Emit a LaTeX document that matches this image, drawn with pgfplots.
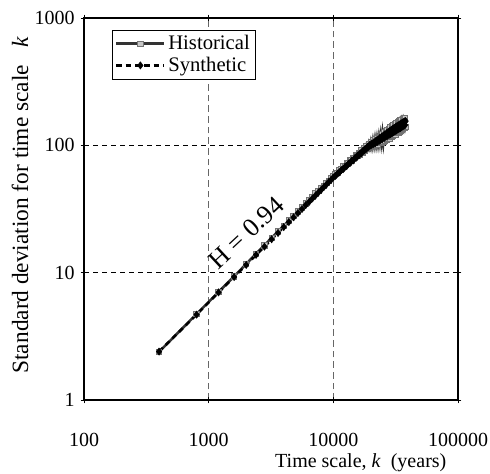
\documentclass[border=0pt]{standalone}
\usepackage{fontspec}
\setmainfont{Liberation Serif}
\usepackage{pgfplots}
\pgfplotsset{compat=1.18}
\usepackage{pgfplotstable}
\usetikzlibrary{calc}

% Standard deviation of the aggregated series against the time scale k (years)
\pgfplotstableread{
k sd
400 2.39
800 4.73
1200 7.05
1600 9.35
2000 11.7
2400 14.1
2800 16.4
3200 18.8
3600 21.1
4000 23.4
4400 25.7
4800 28.0
5200 30.3
5600 32.5
6000 34.9
6400 37.2
6800 39.3
7200 41.8
7600 43.9
8000 46.3
8400 48.2
8800 50.9
9200 52.8
9600 55.4
10000 57.2
10400 59.6
10800 61.0
11200 63.8
11600 64.9
12000 68.1
12400 68.8
12800 71.9
13200 72.6
13600 76.2
14000 75.9
14400 79.8
14800 79.4
15200 83.6
15600 82.5
16000 87.4
16400 84.9
16800 91.5
17200 87.8
17600 95.0
18000 90.1
18400 98.9
18800 93.2
19200 103.0
19600 95.8
20000 106.4
20400 96.9
20800 109.8
21200 99.2
21600 112.5
22000 100.4
22400 113.9
22800 101.8
23200 116.7
23600 104.0
24000 119.8
24400 105.1
24800 123.5
25200 106.8
25600 126.0
26000 108.3
26400 129.1
26800 110.6
27200 131.8
27600 112.2
28000 135.0
28400 113.5
28800 137.9
29200 116.0
29600 140.3
30000 118.2
30400 143.5
30800 120.3
31200 146.1
31600 122.0
32000 149.0
32400 124.5
32800 151.6
33200 126.3
33600 154.0
34000 128.8
34400 156.4
34800 130.7
35200 158.9
35600 133.0
36000 161.0
36400 134.8
36800 162.8
37200 136.9
37600 164.0
38000 139.0
}\historical

\pgfplotstableread{
k sd
400 2.40
800 4.68
1200 7.00
1600 9.25
2000 11.5
2400 13.8
2800 16.0
3200 18.3
3600 20.5
4000 22.8
4400 25.0
4800 27.2
5200 29.4
5600 31.6
6000 33.9
6400 36.0
6800 38.3
7200 40.4
7600 42.7
8000 44.8
8400 47.1
8800 49.2
9200 51.6
9600 53.6
10000 56.0
10400 57.6
10800 59.9
11200 61.4
11600 63.9
12000 65.1
12400 67.8
12800 68.7
13200 71.6
13600 72.5
14000 75.4
14400 76.0
14800 79.1
15200 79.7
15600 82.9
16000 83.2
16400 86.5
16800 86.8
17200 90.2
17600 90.3
18000 93.9
18400 93.8
18800 97.5
19200 97.2
19600 100.8
20000 99.6
20400 103.5
20800 101.8
21200 105.9
21600 103.6
22000 108.9
22400 105.8
22800 111.6
23200 108.0
23600 114.3
24000 110.2
24400 117.0
24800 112.4
25200 119.7
25600 114.6
26000 122.3
26400 116.7
26800 124.6
27200 118.9
27600 127.5
28000 120.6
28400 129.9
28800 122.5
29200 132.6
29600 124.9
30000 134.8
30400 126.5
30800 137.3
31200 128.9
31600 139.2
32000 130.8
32400 141.6
32800 132.6
33200 143.7
33600 134.9
34000 145.9
34400 136.4
34800 148.0
35200 138.7
35600 150.2
36000 140.5
36400 152.1
36800 142.3
37200 154.0
37600 144.2
38000 155.0
}\synthetic

\begin{document}
\begin{tikzpicture}[font=\fontsize{15}{18}\selectfont]
\begin{axis}[
  name=ax,
  xmode=log, ymode=log,
  scale only axis, width=280.5pt, height=286.5pt,
  xmin=100, xmax=100000, ymin=1, ymax=1000,
  xtick={100,1000,10000,100000}, xticklabels={100,1000,10000,100000},
  ytick={1,10,100,1000}, yticklabels={1,10,100,1000},
  xminorticks=false, yminorticks=false,
  tick align=center, major tick length=5pt,
  tick style={black, line width=0.6pt},
  axis line style={black, line width=0.8pt},
  grid=major,
  x grid style={black!60, dash pattern=on 5pt off 3pt, line width=0.6pt},
  y grid style={black, dash pattern=on 3.75pt off 3pt, line width=0.6pt},
  xticklabel style={anchor=center, yshift=-27.75pt},
  yticklabel style={anchor=east, xshift=-1pt},
  xlabel={Time scale, \textit{k}\ \ (years)},
  every axis x label/.style={at={(axis description cs:0.74,-0.165)}, anchor=center},
  ylabel={Standard deviation for time scale\ \ \ \textit{k}},
  every axis y label/.style={at={(axis description cs:-0.171,0.51)}, rotate=90, anchor=center, font=\fontsize{17.5}{20}\selectfont},
  legend style={at={(axis description cs:0.075,0.969)}, anchor=north west,
    draw=black, line width=0.6pt, fill=white, inner sep=2pt, row sep=0pt,
    font=\fontsize{15.5}{18}\selectfont},
  legend cell align=left,
  legend image code/.code={\draw[mark repeat=2,mark phase=2,#1] plot coordinates {(0pt,0pt) (18pt,0pt) (36pt,0pt)};},
]
\addplot[black!80, line width=1.9pt, mark=square*, mark size=2pt,
  mark options={solid, draw=black!55, fill=black!22, line width=0.7pt}]
  table[x=k, y=sd] {\historical};
\addlegendentry{Historical}
\addplot[black, line width=1.9pt, dash pattern=on 4pt off 3pt, mark=diamond*, mark size=2.7pt,
  mark options={solid, fill=black, line width=0.4pt}]
  table[x=k, y=sd] {\synthetic};
\addlegendentry{Synthetic}
\node[rotate=43, font=\fontsize{19.5}{22}\selectfont] at (axis cs:2000,20.5) {H = 0.94};
\end{axis}
\pgfresetboundingbox
\path[use as bounding box] ($(ax.south west)+(-63pt,-55.5pt)$) rectangle ($(ax.north east)+(24pt,13.5pt)$);
\end{tikzpicture}
\end{document}
